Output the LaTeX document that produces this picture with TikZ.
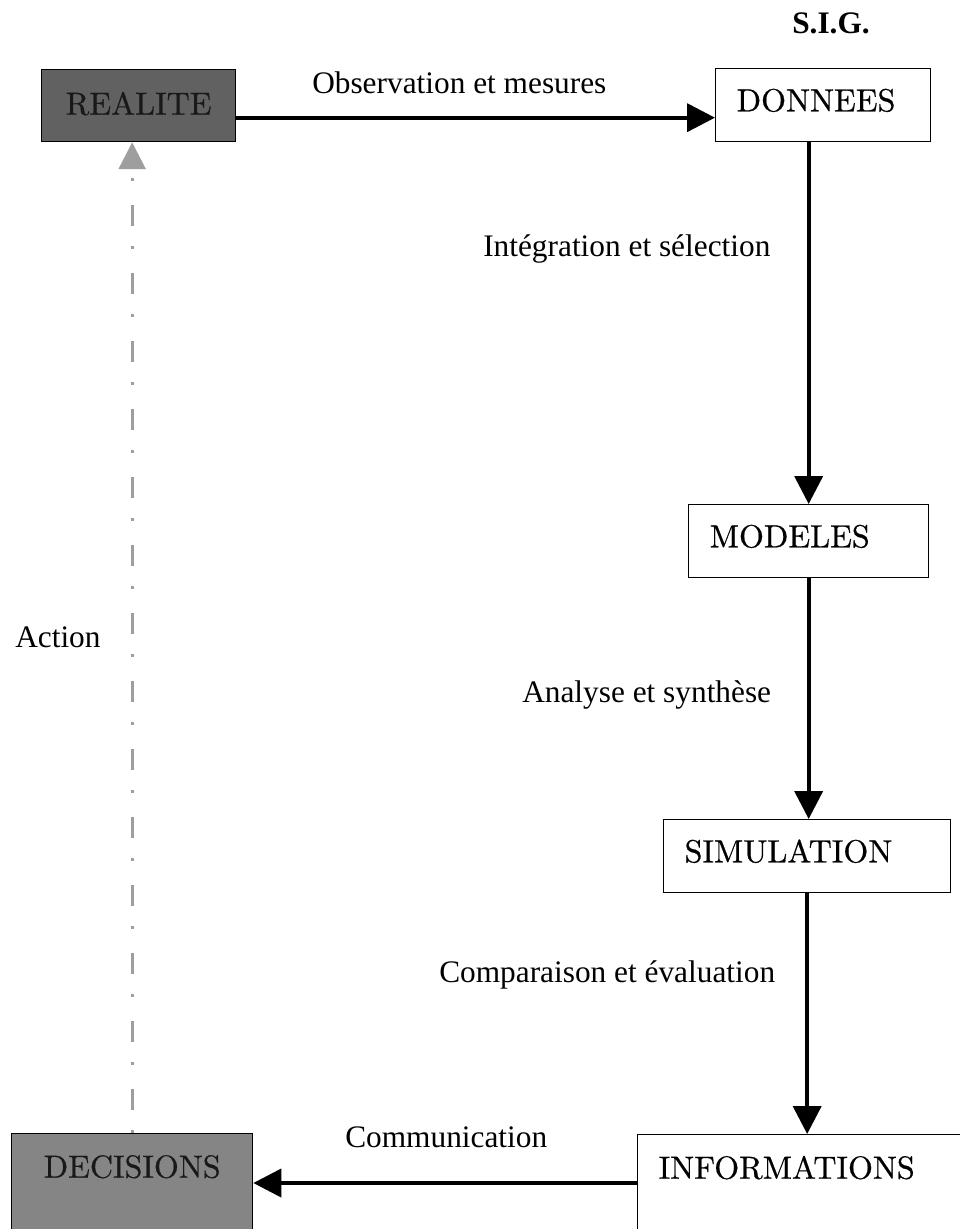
\documentclass[tikz,border=0pt]{standalone}
\usepackage{fontspec}
\usepackage{tikz}
\usetikzlibrary{arrows.meta}
\newfontfamily\labelfont{Liberation Serif}
\newfontfamily\boxfont{lmroman10-regular}[Extension=.otf,FakeBold=0.6]

\begin{document}
\begin{tikzpicture}[x=0.75pt,y=0.75pt,yscale=-1,xscale=1,
  stage/.style={draw, line width=1pt, fill=white, anchor=north west, inner xsep=15.75pt, inner ysep=0pt,
    text height=32pt, text depth=22.5pt, align=left, font=\boxfont\fontsize{24}{28}\selectfont},
  actor/.style={stage, fill=#1, align=center, text=black!90},
  flow/.style={line width=3pt, -{Triangle[length=21pt,width=21pt]}},
  act/.style={draw=black!38, line width=2.25pt, dash pattern=on 2.25pt off 15pt on 16pt off 17.75pt,
    -{Triangle[length=20pt,width=20pt,fill=black!38]}},
  lbl/.style={anchor=base west, inner sep=0pt, font=\labelfont\fontsize{23.5}{28}\selectfont}]
\useasboundingbox (0,0) rectangle (960,1229);
\clip (0,0) rectangle (960,1229);

%Shape: Rectangle
\node[actor=black!62, text width=114pt, text height=33.75pt, text depth=20.25pt] (realite) at (41,69) {REALITE};
\node[stage, text width=129.75pt] (donnees) at (715,68) {DONNEES};
\node[stage, text width=148.5pt] (modeles) at (688,504) {MODELES};
\node[stage, text width=183.75pt] (simulation) at (663,819) {SIMULATION};
\node[stage, text width=233.25pt, text height=33pt, text depth=150pt] (informations) at (637,1134) {INFORMATIONS};
\node[actor=black!48, text width=149.25pt, text height=33pt, text depth=150pt] (decisions) at (11,1133) {DECISIONS};

%Straight Lines
\coordinate (obsout) at ([yshift=9pt]realite.east);
\coordinate (commout) at ([yshift=36.75pt]informations.north west);
\draw[flow] (obsout) -- (obsout -| donnees.west);
\draw[flow] (donnees.south -| modeles.north) -- (modeles.north);
\draw[flow] (modeles.south) -- (modeles.south |- simulation.north);
\draw[flow] (simulation.south) -- (simulation.south |- informations.north);
\draw[flow] (commout) -- (commout -| decisions.east);
\draw[act] (decisions.north) -- (decisions.north |- realite.south);

% Text Node
\node[lbl] (sig) at (792,33) {\bfseries S.I.G.};
% Text Node
\node[lbl] (obs) at (312,93) {Observation et mesures};
% Text Node
\node[lbl] (integ) at (483,256) {Intégration et sélection};
% Text Node
\node[lbl] (analyse) at (522,702) {Analyse et synthèse};
% Text Node
\node[lbl] (compar) at (439,982) {Comparaison et évaluation};
% Text Node
\node[lbl] (comm) at (345,1147) {Communication};
% Text Node
\node[lbl] (action) at (15,647) {Action};

\end{tikzpicture}
\end{document}
